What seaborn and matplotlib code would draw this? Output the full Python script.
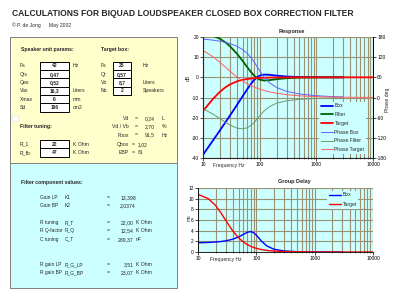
import matplotlib
matplotlib.use("Agg")
import matplotlib.pyplot as plt
import seaborn as sns
from matplotlib.patches import Rectangle
from matplotlib.lines import Line2D

sns.set_style("white")
plt.rcParams['font.family'] = ['Liberation Sans', 'DejaVu Sans']
plt.rcParams['axes.unicode_minus'] = False

# ---------------- data ----------------
freq_box = [10, 15, 20, 25, 30, 40, 50, 60, 70, 80, 90, 100, 120, 150, 200, 300, 500, 1000, 2000, 3000]
freq_target = [10, 15, 20, 25, 30, 40, 50, 60, 70, 80, 90, 100, 120, 150, 200, 300, 500, 1000, 2000, 5000, 10000]

box_db = [-38.4, -31.3, -26.2, -22.2, -18.9, -13.6, -9.4, -6.0, -3.3, -1.28, 0.06, 0.84, 1.37, 1.25, 0.84, 0.40, 0.15, 0.04, 0.01, 0.0]
filter_db = [21.7, 20.6, 19.1, 17.3, 15.4, 11.6, 8.15, 5.15, 2.7, 0.81, -0.43, -1.14, -1.58, -1.38, -0.91, -0.43, -0.16, -0.04, -0.01, 0.0]
target_db = [-16.7, -10.7, -7.1, -4.9, -3.5, -1.97, -1.25, -0.85, -0.62, -0.47, -0.37, -0.30, -0.21, -0.13, -0.07, -0.03, -0.01, 0.0, 0.0, 0.0, 0.0]

phase_box = [173.8, 170.7, 167.4, 163.9, 160.3, 152.2, 142.7, 131.7, 119.0, 105.4, 91.9, 79.7, 60.7, 43.5, 29.5, 18.2, 10.5, 5.2, 2.6, 1.7]
phase_filter = [-33.7, -49.4, -63.0, -73.9, -82.1, -91.3, -93.2, -90.2, -83.3, -74.1, -64.1, -54.6, -39.8, -26.8, -16.9, -9.8, -5.5, -2.7, -1.3, -0.9]
phase_target = [140.1, 121.3, 104.4, 90.0, 78.2, 60.9, 49.5, 41.5, 35.7, 31.3, 27.8, 25.1, 20.9, 16.7, 12.6, 8.4, 5.0, 2.5, 1.3, 0.5, 0.3]

gd_box = [1.74, 1.79, 1.87, 1.97, 2.09, 2.42, 2.84, 3.31, 3.69, 3.82, 3.62, 3.17, 2.14, 1.16, 0.52, 0.19, 0.06, 0.01, 0.0, 0.0]
gd_target = [10.81, 10.01, 8.73, 7.26, 5.89, 3.86, 2.62, 1.87, 1.39, 1.07, 0.85, 0.69, 0.48, 0.31, 0.17, 0.08, 0.03, 0.01, 0.0, 0.0, 0.0]

db_ticks = [-40, -30, -20, -10, 0, 10, 20]
phase_ticks = [-180, -120, -60, 0, 60, 120, 180]
gd_ticks = [0, 2, 4, 6, 8, 10, 12]
freq_ticks = [10, 100, 1000, 10000]
freq_labels = ['10', '100', '1000', '10000']

speaker_labels = ['Fs', 'Qts', 'Qes', 'Vas', 'Xmax', 'Sd']
speaker_values = ['42', '0,47', '0,52', '16,3', '6', '196']
speaker_units = ['Hz', '', '', 'Liters', 'mm', 'cm2']
target_labels = ['Fs', 'Qt', 'Vb', 'No.']
target_values = ['25', '0,57', '8,7', '2']
target_units = ['Hz', '', 'Liters', 'Speakers']
derived_labels = ['Vd', 'Vd / Vb', 'Fbox']
derived_values = ['0,24', '2,70', '91,5']
derived_units = ['L', '%', 'Hz']
derived2_labels = ['Qbox', 'EBP']
derived2_values = ['1,02', '81']
tuning_labels = ['R_1', 'R_fb']
tuning_values = ['22', '47']
comp_names = ['Gain LP', 'Gain BP', 'R tuning', 'R Q-factor', 'C tuning', 'R gain LP', 'R gain BP']
comp_syms = ['K1', 'K2', 'R_T', 'R_Q', 'C_T', 'R_G_LP', 'R_G_BP']
comp_values = ['13,398', '2,0374', '22,00', '12,54', '289,37', '3,51', '23,07']
comp_units = ['', '', 'K Ohm', 'K Ohm', 'nF', 'K Ohm', 'K Ohm']

# ---------------- figure ----------------
W, H = 400, 294
fig = plt.figure(figsize=(4, 2.94), dpi=100)
fig.patch.set_facecolor('white')

FS = 3.7


def fx(x):
    return x / W


def fy(y):
    return 1 - y / H


def T(x, y, s, ha='left', bold=False, size=FS, **kw):
    fig.text(fx(x), fy(y), s, ha=ha, va='center', fontsize=size,
             fontweight='bold' if bold else 'normal', **kw)


def rect(x0, y0, x1, y1, fc, ec, lw=0.7):
    fig.add_artist(Rectangle((fx(x0), fy(y1)), (x1 - x0) / W, (y1 - y0) / H,
                             transform=fig.transFigure, facecolor=fc,
                             edgecolor=ec, lw=lw))


# title
T(12, 13, 'CALCULATIONS FOR BIQUAD LOUDSPEAKER CLOSED BOX CORRECTION FILTER', bold=True, size=6.15)
T(12, 25, '© P. de Jong', size=3.6)
T(49, 25, 'May 2002', size=3.6)

# left panels
rect(10, 37, 177, 163, '#ffffcc', '#808080')
rect(10, 163, 177, 288, '#ccffff', '#808080')
rect(12, 115, 18, 121, 'white', '#e0e0e0', lw=0.4)

T(21, 49, 'Speaker unit params:', bold=True)
T(101, 49, 'Target box:', bold=True)
rh = 8.33
for i, (lab, val, un) in enumerate(zip(speaker_labels, speaker_values, speaker_units)):
    y0 = 61.7 + rh * i
    rect(40, y0, 69, y0 + rh, 'white', 'black')
    T(20, y0 + rh / 2, lab)
    T(54.5, y0 + rh / 2, val, ha='center', bold=True, size=3.6)
    T(73, y0 + rh / 2, un)
for i, (lab, val, un) in enumerate(zip(target_labels, target_values, target_units)):
    y0 = 61.7 + rh * i
    rect(112.7, y0, 131, y0 + rh, 'white', 'black')
    T(101, y0 + rh / 2, lab)
    T(122, y0 + rh / 2, val, ha='center', bold=True, size=3.6)
    T(143, y0 + rh / 2, un)

for i, (lab, val, un) in enumerate(zip(derived_labels, derived_values, derived_units)):
    yy = 118.3 + 8.4 * i
    T(129, yy, lab, ha='right')
    T(136.5, yy, '=', ha='center')
    T(155, yy, val, ha='right')
    T(162, yy, un)
for i, (lab, val) in enumerate(zip(derived2_labels, derived2_values)):
    yy = 144.3 + 8.4 * i
    T(129, yy, lab, ha='right')
    T(133.5, yy, '=', ha='center')
    T(138, yy, val)

T(20, 126.7, 'Filter tuning:', bold=True)
for i, (lab, val) in enumerate(zip(tuning_labels, tuning_values)):
    y0 = 139.7 + 8.6 * i
    rect(40, y0, 69, y0 + 8.6, 'white', 'black')
    T(20, y0 + 4.3, lab)
    T(54.5, y0 + 4.3, val, ha='center', bold=True, size=3.6)
    T(73, y0 + 4.3, 'K Ohm')

T(21, 182.3, 'Filter component values:', bold=True)
comp_y = [197.3, 205.7, 222.5, 230.9, 239.3, 264.5, 272.9]
for yy, nm, sy, val, un in zip(comp_y, comp_names, comp_syms, comp_values, comp_units):
    T(40.5, yy, nm, size=3.55)
    T(64.5, yy, sy, size=3.55)
    T(108, yy, '=', ha='center')
    T(136 if un == '' else 133.5, yy, val, ha='right')
    if un:
        T(135.5, yy, un)

# ---------------- response chart ----------------
gridc = '#9a9274'
plotbg = '#ccffff'
ax = fig.add_axes([fx(203), fy(158), (373 - 203) / W, (158 - 37) / H])
ax.set_facecolor(plotbg)
sns.lineplot(x=freq_box, y=box_db, ax=ax, color='#0000ff', lw=1.3, legend=False)
sns.lineplot(x=freq_box, y=filter_db, ax=ax, color='#006400', lw=1.3, legend=False)
sns.lineplot(x=freq_target, y=target_db, ax=ax, color='#ff0000', lw=1.3, legend=False)
ax.set_xscale('log')
ax.set_xlim(10, 10000)
ax.set_ylim(-40, 20)
ax.set_yticks(db_ticks)
ax.set_yticklabels([str(t) for t in db_ticks])
ax.set_xticks(freq_ticks)
ax.set_xticklabels(freq_labels)
ax.xaxis.set_minor_locator(matplotlib.ticker.LogLocator(base=10, subs=range(2, 10)))
ax.xaxis.set_minor_formatter(matplotlib.ticker.NullFormatter())
ax.grid(True, which='both', axis='x', color=gridc, lw=0.8)
ax.grid(True, which='major', axis='y', color=gridc, lw=0.8)
ax.set_axisbelow(True)
ax.set_xlabel('')
ax.set_ylabel('')
ax.tick_params(axis='both', which='major', bottom=True, left=True, direction='out',
               length=2, width=0.5, labelsize=3.5, pad=1, colors='black')
ax.tick_params(axis='x', which='minor', bottom=True, direction='inout', length=2, width=0.4)
for s in ['left', 'bottom', 'right']:
    ax.spines[s].set_visible(True)
    ax.spines[s].set_color('black')
    ax.spines[s].set_linewidth(0.6)
ax.spines['top'].set_visible(False)

ax2 = ax.twinx()
sns.lineplot(x=freq_box, y=phase_box, ax=ax2, color='#6060ff', lw=0.7, legend=False)
sns.lineplot(x=freq_box, y=phase_filter, ax=ax2, color='#6b9b6b', lw=0.7, legend=False)
sns.lineplot(x=freq_target, y=phase_target, ax=ax2, color='#ff6060', lw=0.7, legend=False)
ax2.set_ylim(-180, 180)
ax2.set_yticks(phase_ticks)
ax2.set_yticklabels([str(t) for t in phase_ticks])
ax2.set_ylabel('')
ax2.tick_params(axis='y', right=True, direction='out', length=2, width=0.5,
                labelsize=3.5, pad=1, colors='black')
ax2.spines['top'].set_visible(False)
ax2.spines['right'].set_color('black')
ax2.spines['right'].set_linewidth(0.6)

handles = [Line2D([], [], color='#0000ff', lw=1.3), Line2D([], [], color='#006400', lw=1.3),
           Line2D([], [], color='#ff0000', lw=1.3), Line2D([], [], color='#6060ff', lw=0.7),
           Line2D([], [], color='#6b9b6b', lw=0.7), Line2D([], [], color='#ff6060', lw=0.7)]
labels = ['Box', 'Filter', 'Target', 'Phase Box', 'Phase Filter', 'Phase Target']
leg = ax2.legend(handles, labels, loc='upper left', bbox_to_anchor=(fx(319), fy(102)),
                 bbox_transform=fig.transFigure, fontsize=3.6, frameon=True,
                 facecolor=plotbg, edgecolor='none', framealpha=1, fancybox=False,
                 handlelength=2.4, handletextpad=0.4, labelspacing=0.75,
                 borderpad=0.3, borderaxespad=0)

T(292, 31, 'Response', ha='center', bold=True, size=4.0)
T(188, 78, 'dB', ha='center', size=3.6, rotation=90)
T(388, 100, 'Phase deg', ha='center', size=3.6, rotation=90)
T(213, 165, 'Frequency Hz', size=3.6)

# ---------------- group delay chart ----------------
ax3 = fig.add_axes([fx(198), fy(252), (373 - 198) / W, (252 - 188) / H])
ax3.set_facecolor(plotbg)
sns.lineplot(x=freq_box, y=gd_box, ax=ax3, color='#0000ff', lw=1.0, legend=False)
sns.lineplot(x=freq_target, y=gd_target, ax=ax3, color='#ff0000', lw=1.0, legend=False)
ax3.set_xscale('log')
ax3.set_xlim(10, 10000)
ax3.set_ylim(0, 12)
ax3.set_yticks(gd_ticks)
ax3.set_yticklabels([str(t) for t in gd_ticks])
ax3.set_xticks(freq_ticks)
ax3.set_xticklabels(freq_labels)
ax3.xaxis.set_minor_locator(matplotlib.ticker.LogLocator(base=10, subs=range(2, 10)))
ax3.xaxis.set_minor_formatter(matplotlib.ticker.NullFormatter())
ax3.grid(True, which='both', axis='x', color=gridc, lw=0.8)
ax3.grid(True, which='major', axis='y', color=gridc, lw=0.8)
ax3.set_axisbelow(True)
ax3.set_xlabel('')
ax3.set_ylabel('')
ax3.tick_params(axis='both', which='major', bottom=True, left=True, direction='out',
                length=2, width=0.5, labelsize=3.5, pad=1, colors='black')
ax3.tick_params(axis='x', which='minor', bottom=True, direction='inout', length=2, width=0.4)
for s in ['left', 'bottom']:
    ax3.spines[s].set_visible(True)
    ax3.spines[s].set_color('black')
    ax3.spines[s].set_linewidth(0.6)
ax3.spines['top'].set_visible(False)
ax3.spines['right'].set_visible(False)

h3 = [Line2D([], [], color='#0000ff', lw=1.0), Line2D([], [], color='#ff0000', lw=1.0)]
ax3.legend(h3, ['Box', 'Target'], loc='upper left', bbox_to_anchor=(fx(327), fy(191)),
           bbox_transform=fig.transFigure, fontsize=3.6, frameon=True,
           facecolor=plotbg, edgecolor='none', framealpha=1, fancybox=False,
           handlelength=2.4, handletextpad=0.4, labelspacing=0.9,
           borderpad=0.3, borderaxespad=0)

T(294, 182, 'Group Delay', ha='center', bold=True, size=4.0)
T(189, 218, 'ms', ha='center', size=3.6, rotation=90)
T(210, 259, 'Frequency Hz', size=3.6)

fig.savefig('out.png', dpi=100, facecolor='white')
